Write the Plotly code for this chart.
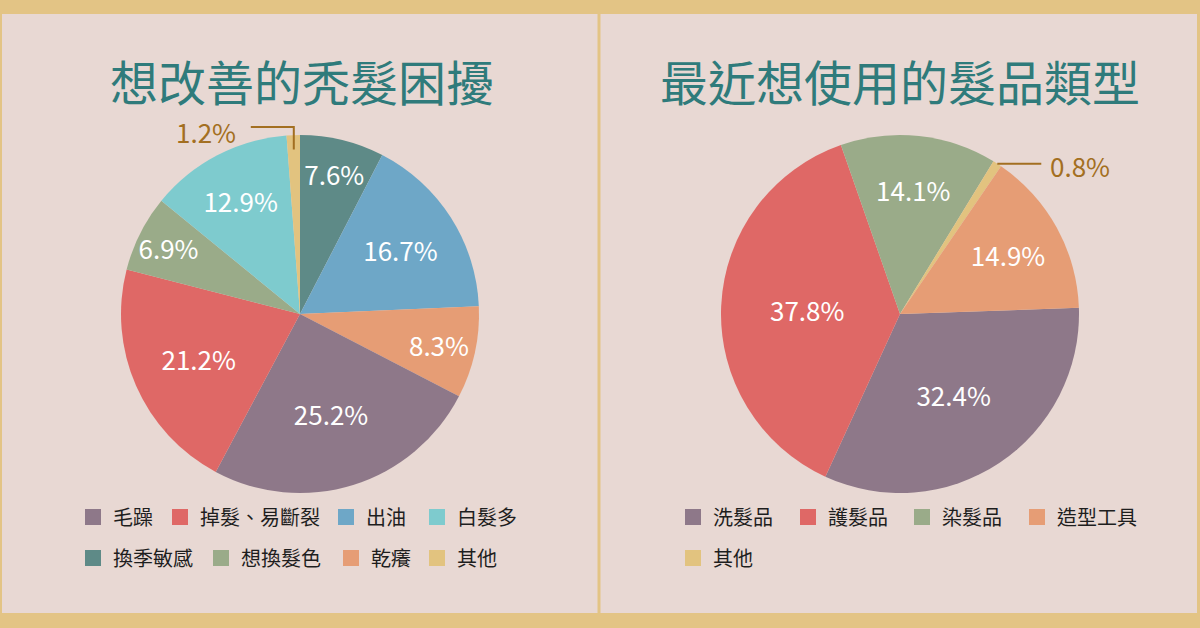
import math
import plotly.graph_objects as go

W, H = 1200, 628

# ---------------- data ----------------
left_title = "想改善的秃髮困擾"
left_labels = ["換季敏感", "出油", "乾癢", "毛躁", "掉髮、易斷裂", "想換髮色", "白髮多", "其他"]
left_values = [7.6, 16.7, 8.3, 25.2, 21.2, 6.9, 12.9, 1.2]
left_legend_rows = [["毛躁", "掉髮、易斷裂", "出油", "白髮多"],
                    ["換季敏感", "想換髮色", "乾癢", "其他"]]

right_title = "最近想使用的髮品類型"
right_labels = ["洗髮品", "護髮品", "染髮品", "其他", "造型工具"]
right_values = [32.4, 37.8, 14.1, 0.8, 14.9]
right_legend_rows = [["洗髮品", "護髮品", "染髮品", "造型工具"],
                     ["其他"]]

# ---------------- styles ----------------
COLORS = {
    "毛躁": "#8e7889", "掉髮、易斷裂": "#df6866", "出油": "#6ea7c7", "白髮多": "#7ecbce",
    "換季敏感": "#5e8a87", "想換髮色": "#9aab89", "乾癢": "#e69d75", "其他": "#e2c37f",
    "洗髮品": "#8e7889", "護髮品": "#df6866", "染髮品": "#9aab89", "造型工具": "#e69d75",
}
BG = "#e8d8d3"
GOLD = "#e3c485"
TITLE_C = "#2f7b7b"
OUT_C = "#a36f21"
FONT = "Noto Sans CJK TC"
SMALL = 2.0  # slices below this get an outside label

R = 179
pies = [
    dict(labels=left_labels, values=left_values, cx=300, cy=314, rot=0),
    dict(labels=right_labels, values=right_values, cx=900, cy=314, rot=88),
]

fig = go.Figure()
annotations = []
shapes = []

def px(x):
    return x / W

def py(y):
    return 1 - y / H

for p in pies:
    labels, values = p["labels"], p["values"]
    tt = ["" if v < SMALL else "%{value:.1f}%" for v in values]
    fig.add_trace(go.Pie(
        labels=labels, values=values, sort=False, direction="clockwise",
        rotation=p["rot"], showlegend=False,
        marker=dict(colors=[COLORS[l] for l in labels], line=dict(width=0)),
        texttemplate=tt, textposition="inside", insidetextorientation="horizontal",
        insidetextfont=dict(family=FONT, size=26, color="white"),
        hoverinfo="label+value",
        domain=dict(x=[px(p["cx"] - R), px(p["cx"] + R)],
                    y=[py(p["cy"] + R), py(p["cy"] - R)]),
    ))
    # outside labels with leader lines for tiny slices
    total = sum(values)
    for i, v in enumerate(values):
        if v >= SMALL:
            continue
        start = p["rot"] + 360 * sum(values[:i]) / total
        mid = math.radians(start + 180 * v / total)
        ax_ = p["cx"] + 0.92 * R * math.sin(mid)
        ay_ = p["cy"] - 0.92 * R * math.cos(mid)
        if math.sin(mid) < 0.3:
            # elbow: up then left
            ey = p["cy"] - R - 8
            ex = ax_ - 43
            path = f"M {px(ax_)},{py(ay_)} L {px(ax_)},{py(ey)} L {px(ex)},{py(ey)}"
            annotations.append(dict(x=px(ex - 13), y=py(ey + 4), xref="paper", yref="paper",
                                    text=f"{v:.1f}%", showarrow=False, xanchor="right",
                                    yanchor="middle", font=dict(family=FONT, size=26, color=OUT_C)))
        else:
            ex0 = p["cx"] + R * math.sin(mid)
            ey0 = p["cy"] - R * math.cos(mid)
            ex = ex0 + 44
            path = f"M {px(ex0)},{py(ey0)} L {px(ex)},{py(ey0)}"
            annotations.append(dict(x=px(ex + 7), y=py(ey0 + 2), xref="paper", yref="paper",
                                    text=f"{v:.1f}%", showarrow=False, xanchor="left",
                                    yanchor="middle", font=dict(family=FONT, size=26, color=OUT_C)))
        shapes.append(dict(type="path", path=path, xref="paper", yref="paper",
                           line=dict(color=OUT_C, width=2), layer="above"))

# titles
for t, cx in [(left_title, 302), (right_title, 900)]:
    annotations.append(dict(x=px(cx), y=py(80), xref="paper", yref="paper", text=t,
                            showarrow=False, xanchor="center", yanchor="middle",
                            font=dict(family=FONT, size=48, color=TITLE_C)))

# legends: one legend per entry so every entry sits where the reference has it
# (marker centre x positions per row)
legend_rows = [
    (left_legend_rows[0], [94, 181, 347, 438], 517),
    (left_legend_rows[1], [94, 222, 352, 438], 558),
    (right_legend_rows[0], [694, 809, 923, 1038], 517),
    (right_legend_rows[1], [694], 558),
]
legend_layout = {}
n = 0
for items, xs, ly in legend_rows:
    for lab, mx in zip(items, xs):
        n += 1
        name = "legend" if n == 1 else f"legend{n}"
        fig.add_trace(go.Scatter(
            x=[None], y=[None], mode="markers", name=lab, legend=name,
            marker=dict(symbol="square", size=16, color=COLORS[lab]),
            showlegend=True, hoverinfo="skip",
        ))
        legend_layout[name] = dict(
            orientation="h", x=px(mx - 21), y=py(ly), xanchor="left", yanchor="middle",
            bgcolor="rgba(0,0,0,0)", borderwidth=0,
            font=dict(family=FONT, size=20, color="#1e1e1e"),
            itemclick=False, itemdoubleclick=False,
        )

# frame: golden bands
for (x0, x1, y0, y1) in [(0, W, 0, 14), (0, W, 613, H), (0, 2, 0, H),
                         (597.5, 600.5, 0, H), (1197, W, 0, H)]:
    shapes.append(dict(type="rect", xref="paper", yref="paper",
                       x0=px(x0), x1=px(x1), y0=py(y1), y1=py(y0),
                       fillcolor=GOLD, line=dict(width=0), layer="below"))

fig.update_layout(
    width=W, height=H, margin=dict(l=0, r=0, t=0, b=0),
    paper_bgcolor=BG, plot_bgcolor="rgba(0,0,0,0)",
    xaxis=dict(visible=False, range=[0, 1]), yaxis=dict(visible=False, range=[0, 1]),
    annotations=annotations, shapes=shapes,
    uniformtext=dict(minsize=26, mode="show"),
    **legend_layout,
)

fig.write_html("out.html", config={"displayModeBar": False},
               post_script="document.body.style.margin='0';document.body.style.overflow='hidden';")
